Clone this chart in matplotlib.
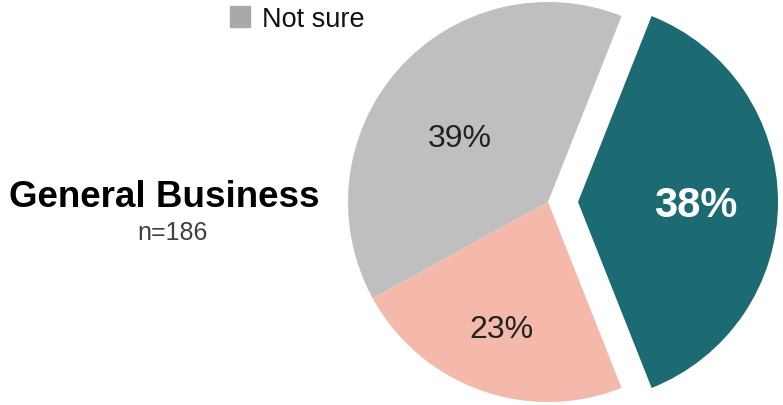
import numpy as np
import matplotlib.pyplot as plt
from matplotlib.patches import Rectangle

plt.rcParams['font.family'] = ['Liberation Sans', 'DejaVu Sans']

# Slice data (counterclockwise from the exploded slice)
labels = ['Yes', 'Not sure', 'No']
values = [38, 39, 23]
colors = ['#1c6b73', '#bfbfbf', '#f4b9aa']
explode = [0.15, 0, 0]
label_dist = [0.59, 0.54, 0.68]
label_shift = [-1.5, 6, 0]  # degrees
label_colors = ['white', '#222222', '#222222']
label_sizes = [30, 23, 23]
label_weights = ['bold', 'normal', 'normal']

title = 'General Business'
subtitle = 'n=186'

W, H = 783, 405
fig = plt.figure(figsize=(W / 100, H / 100), dpi=100)

# pie axes: centre at (548, 202) px, radius 200 px
cx, cy, r = 548, 202, 200
ax = fig.add_axes([(cx - r) / W, (H - cy - r) / H, 2 * r / W, 2 * r / H])
start = -values[0] / 100 * 360 / 2
wedges, _ = ax.pie(values, colors=colors, explode=explode, startangle=start,
                   counterclock=True, radius=1, wedgeprops=dict(linewidth=0))
ax.set_xlim(-1, 1)
ax.set_ylim(-1, 1)
ax.set_aspect('equal')
ax.axis('off')

for w, v, d, sh, c, s, fw, e in zip(wedges, values, label_dist, label_shift,
                                    label_colors, label_sizes, label_weights, explode):
    ang = np.deg2rad((w.theta1 + w.theta2) / 2 + sh)
    rr = d + e
    ax.text(rr * np.cos(ang), rr * np.sin(ang), f'{v}%', ha='center', va='center',
            color=c, fontsize=s, fontweight=fw)

# legend (only visible entry)
fig.patches.append(Rectangle((230 / W, 1 - 27 / H), 20 / W, 21 / H,
                             transform=fig.transFigure, color='#a9a9a9'))
fig.text(262 / W, 1 - 20 / H, labels[1], fontsize=19.5, va='center', ha='left',
         color='#111111')

fig.text(164 / W, 1 - 197 / H, title, fontsize=26.5, fontweight='bold',
         ha='center', va='center', color='black')
fig.text(173 / W, 1 - 233 / H, subtitle, fontsize=18, ha='center', va='center',
         color='#404040')

fig.savefig('out.png', dpi=100)
